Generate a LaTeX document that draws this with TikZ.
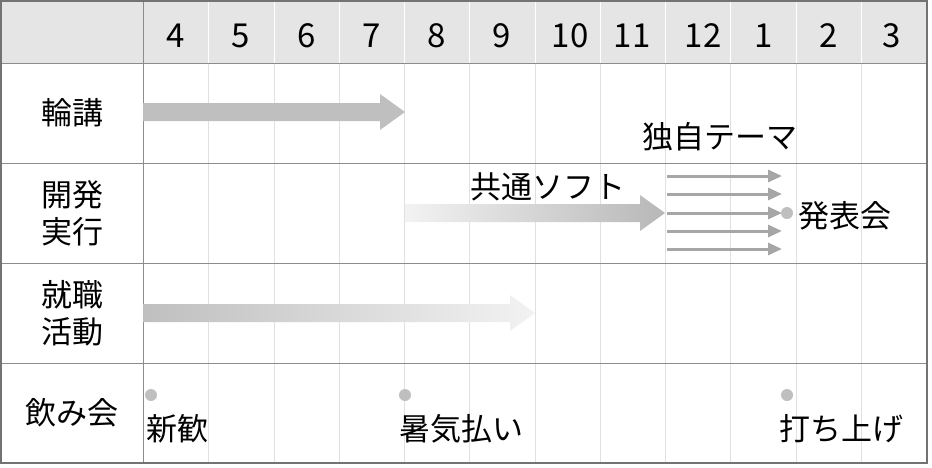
\documentclass[tikz,border=0pt]{standalone}
\usepackage{fontspec}
\setmainfont{Noto Sans CJK JP}
\usetikzlibrary{arrows.meta}
\begin{document}
\begin{tikzpicture}[x=1pt,y=-1pt,
  lbl/.style={font=\fontsize{31}{33}\selectfont, inner sep=0pt},
  mon/.style={font=\fontsize{33}{35}\selectfont, inner sep=0pt},
  dot/.style={circle, fill=black!25, minimum size=12pt, inner sep=0pt},
  thinarr/.style={draw=black!35, line width=3pt, -{Triangle[length=14pt,width=12pt]}}]
\useasboundingbox (0,0) rectangle (932,467);
\fill[black!10] (1,1) rectangle (927,63);
\foreach \x in {208,274,339,404,469,535,600,665,730,796,861}
  \draw[black!12, line width=0.8pt] (\x,63) -- (\x,463);
\foreach \x in {208,274,339,404,469,535,600,665,730,796,861}
  \draw[white, line width=0.8pt] (\x,1) -- (\x,63);
\foreach \y in {63,163,263,363}
  \draw[black!45, line width=1pt] (1,\y) -- (927,\y);
\draw[black!45, line width=1pt] (143,1) -- (143,463);
\draw[black!55, line width=1.2pt] (1,1) rectangle (927,463);
\foreach \m/\x in {4/176,5/241,6/307,7/372,8/437,9/502,10/570,11/632,12/703,1/764,2/829,3/892}
  \node[mon] (m\m) at (\x,36) {\m};
\node[lbl] (r1) at (72,113) {輪講};
\node[lbl, align=center] (r2) at (72,213) {開発\\[4pt]実行};
\node[lbl, align=center] (r3) at (72,313) {就職\\[4pt]活動};
\node[lbl] (r4) at (72,413) {飲み会};
\fill[black!25] (143,103) -- (380,103) -- (380,94) -- (405,112) -- (380,130) -- (380,121) -- (143,121) -- cycle;
\shade[left color=black!5, right color=black!28] (405,204) -- (640,204) -- (640,195) -- (665,213) -- (640,231) -- (640,222) -- (405,222) -- cycle;
\shade[left color=black!25, right color=black!5] (143,304) -- (510,304) -- (510,295) -- (535,313) -- (510,331) -- (510,322) -- (143,322) -- cycle;
\foreach \y/\n in {176/a,194/b,213/c,231/d,249/e}{
  \coordinate (s\n) at (667,\y); \coordinate (t\n) at (782,\y);
  \draw[thinarr] (s\n) -- (t\n);}
\node[dot] (d0) at (787,213) {};
\node[lbl, anchor=west] (hap) at (798,216) {発表会};
\node[lbl] (doku) at (720,137) {独自テーマ};
\node[lbl] (kyo) at (548,187) {共通ソフト};
\node[dot] (d1) at (151,395) {};
\node[dot] (d2) at (405,395) {};
\node[dot] (d3) at (787,395) {};
\node[lbl, anchor=west] at (146,429) {新歓};
\node[lbl, anchor=west] at (399,429) {暑気払い};
\node[lbl, anchor=west] at (779,429) {打ち上げ};
\end{tikzpicture}
\end{document}
